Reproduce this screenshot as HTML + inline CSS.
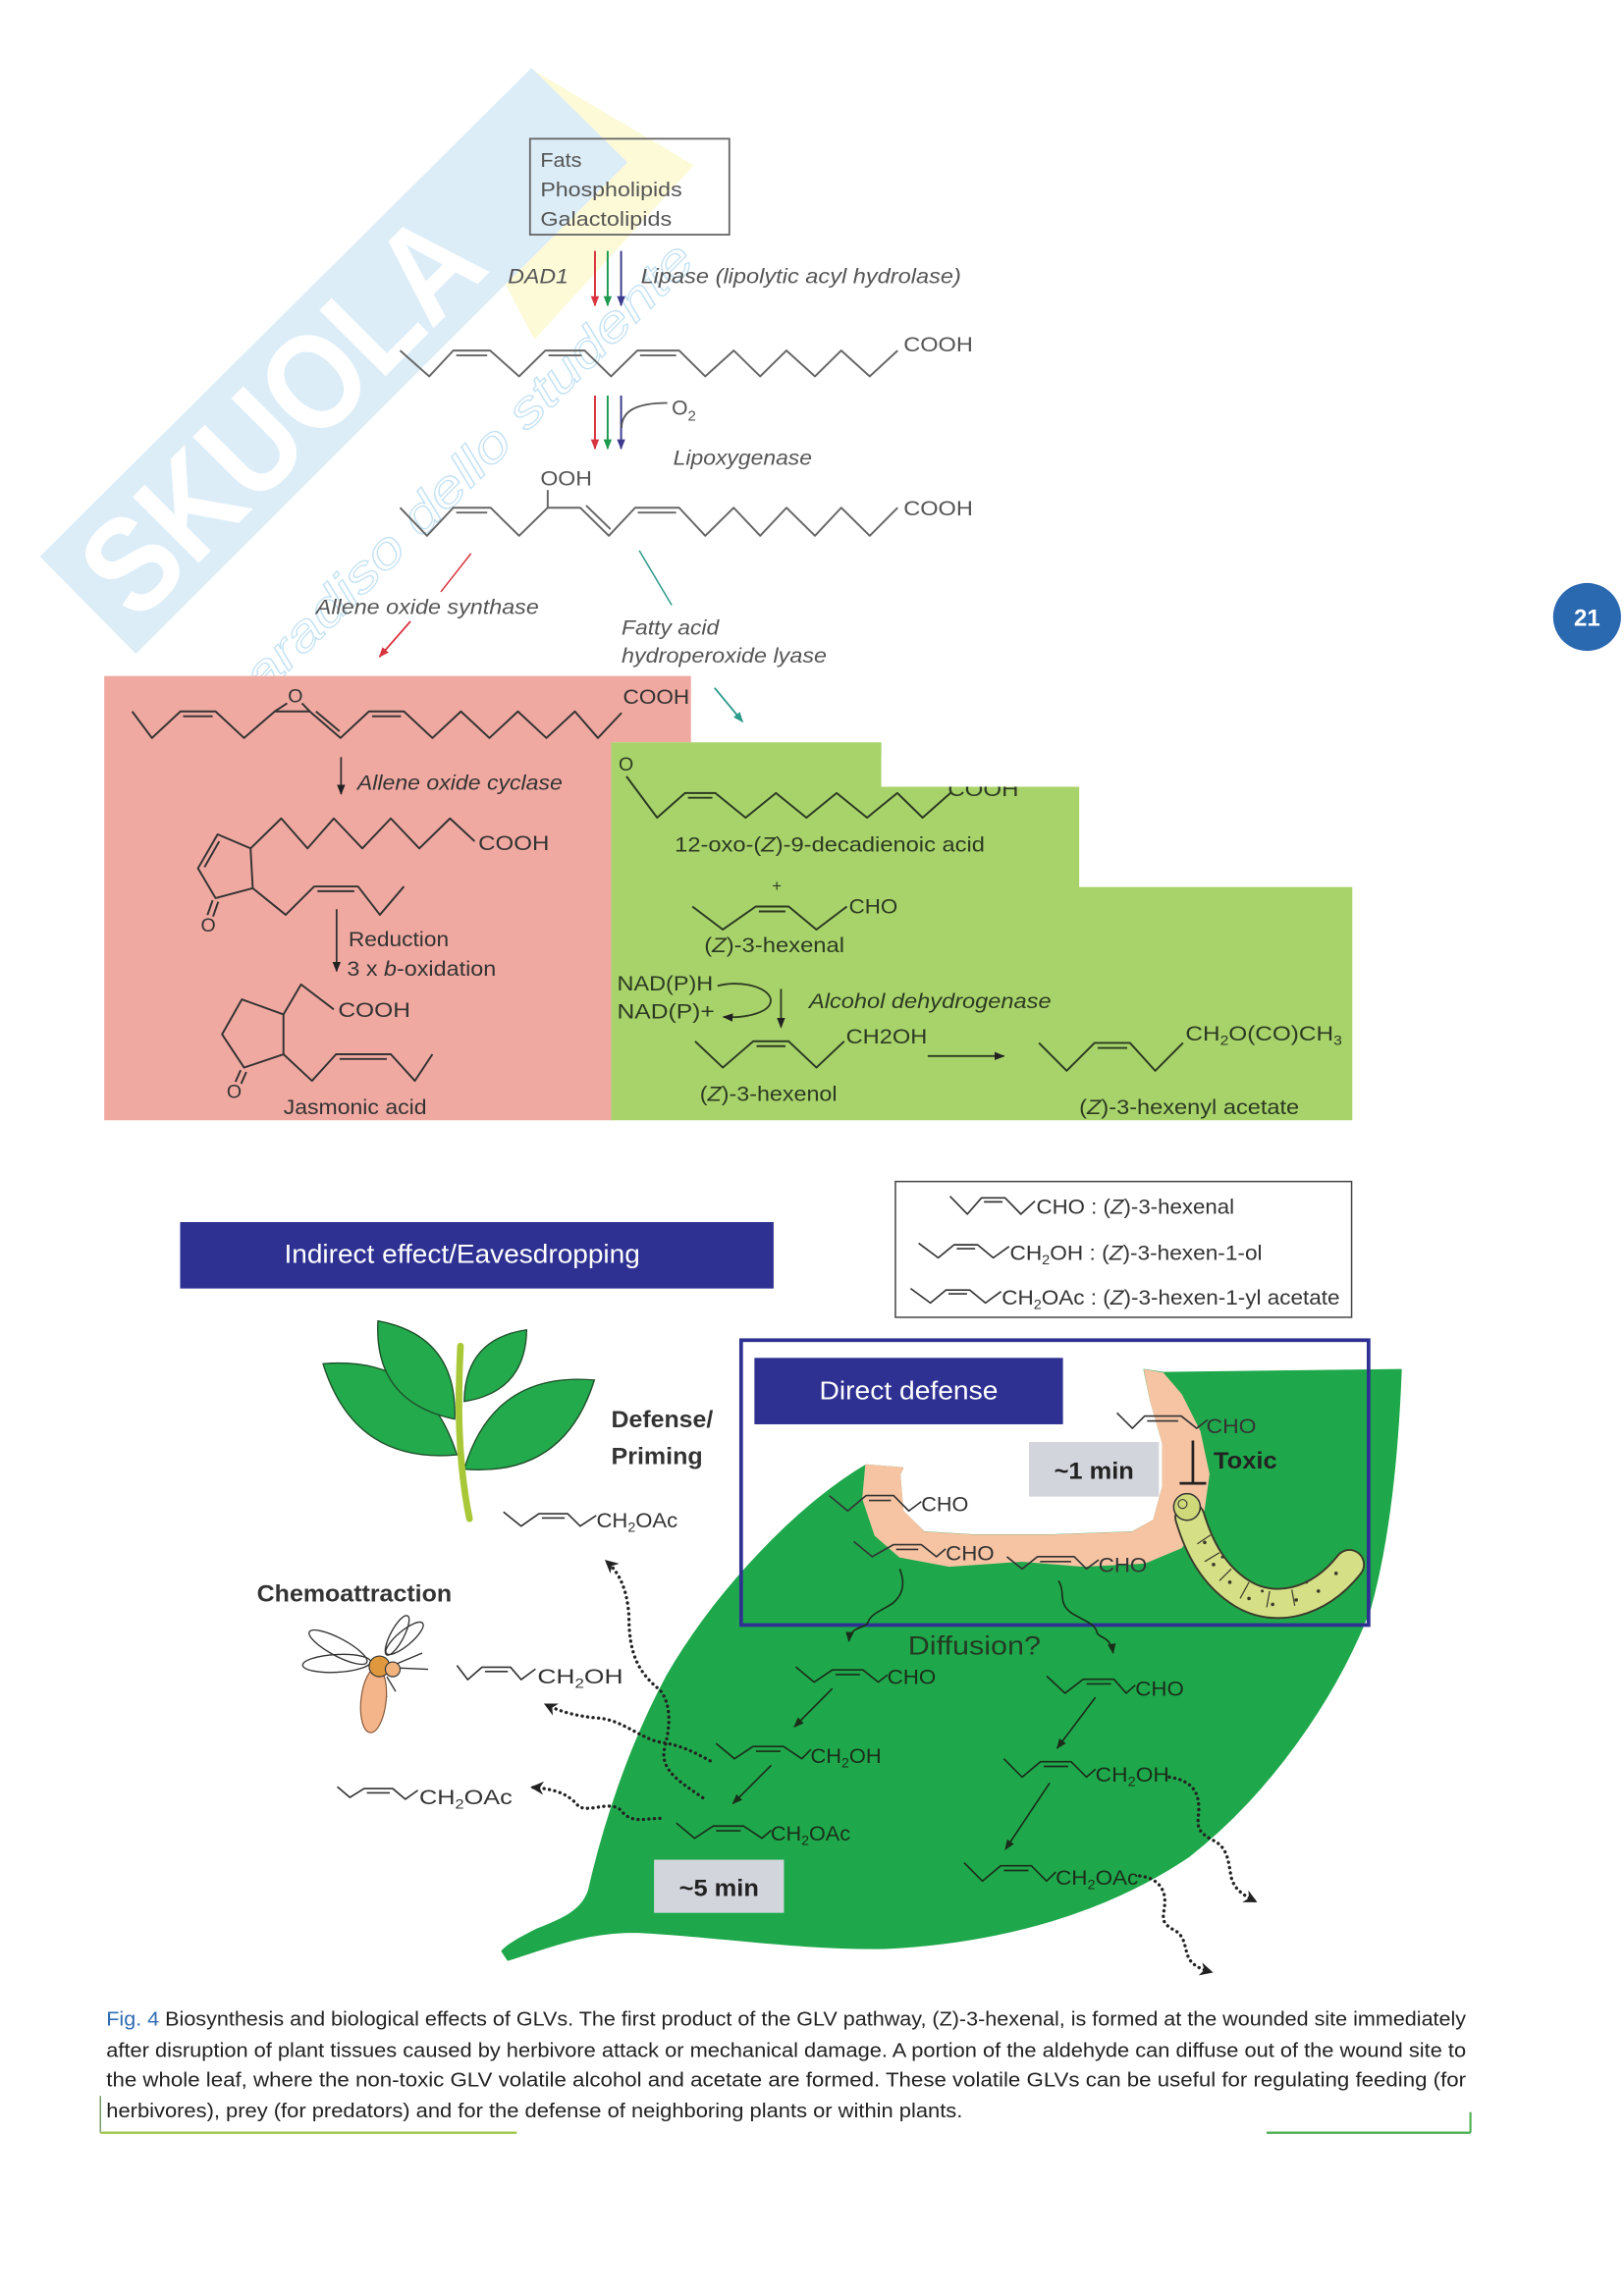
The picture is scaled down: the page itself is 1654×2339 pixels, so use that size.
<!DOCTYPE html>
<html><head><meta charset="utf-8">
<style>
html,body{margin:0;padding:0;background:#fff;}
svg{display:block;}
text{font-family:"Liberation Sans",Arial,sans-serif;}
</style></head><body>
<svg xmlns="http://www.w3.org/2000/svg" width="1654" height="2339" viewBox="0 0 1100 1555.6">
<defs>
<marker id="mk" viewBox="0 0 10 10" refX="9" refY="5" markerWidth="7" markerHeight="7" markerUnits="userSpaceOnUse" orient="auto"><path d="M0,1 L10,5 L0,9 z" fill="#222"/></marker>
<marker id="mkd" viewBox="0 0 10 10" refX="9" refY="5" markerWidth="7" markerHeight="7" markerUnits="userSpaceOnUse" orient="auto"><path d="M0,1 L10,5 L0,9 z" fill="#1a2d1a"/></marker>
<marker id="mr" viewBox="0 0 10 10" refX="9" refY="5" markerWidth="8" markerHeight="7" markerUnits="userSpaceOnUse" orient="auto"><path d="M0,1 L10,5 L0,9 z" fill="#d8343f"/></marker>
<marker id="mg" viewBox="0 0 10 10" refX="9" refY="5" markerWidth="8" markerHeight="7" markerUnits="userSpaceOnUse" orient="auto"><path d="M0,1 L10,5 L0,9 z" fill="#1d9a4e"/></marker>
<marker id="mp" viewBox="0 0 10 10" refX="9" refY="5" markerWidth="8" markerHeight="7" markerUnits="userSpaceOnUse" orient="auto"><path d="M0,1 L10,5 L0,9 z" fill="#3b3a8f"/></marker>
<marker id="mt" viewBox="0 0 10 10" refX="9" refY="5" markerWidth="8" markerHeight="7" markerUnits="userSpaceOnUse" orient="auto"><path d="M0,1 L10,5 L0,9 z" fill="#2a9a8a"/></marker>
<marker id="mdot" viewBox="0 0 10 10" refX="8" refY="5" markerWidth="9" markerHeight="9" markerUnits="userSpaceOnUse" orient="auto"><path d="M0,0 L10,5 L0,10 L3,5 z" fill="#222"/></marker>
</defs>

<!-- watermark -->
<polygon points="300,112 362,48 470,112 362,230" fill="#fdfad8"/>
<polygon points="27,377 360,46 425,110 92,443" fill="#dcedf8"/>
<text x="213" y="303" transform="rotate(-45 213 303)" text-anchor="middle" font-size="92" font-weight="bold" fill="#ffffff" textLength="340" lengthAdjust="spacingAndGlyphs">SKUOLA</text>
<text x="306" y="344" transform="rotate(-45 306 344)" text-anchor="middle" font-size="34" font-style="italic" fill="none" stroke="#c2e1f3" stroke-width="0.8" font-family="Liberation Serif, serif" textLength="470" lengthAdjust="spacingAndGlyphs">il paradiso dello studente</text>

<!-- Top: lipids box -->
<rect x="359" y="94" width="135" height="65" fill="none" stroke="#666" stroke-width="1.2"/>
<g font-size="13.5" fill="#555">
<text x="366" y="113" textLength="28" lengthAdjust="spacingAndGlyphs">Fats</text>
<text x="366" y="133" textLength="96" lengthAdjust="spacingAndGlyphs">Phospholipids</text>
<text x="366" y="153" textLength="89" lengthAdjust="spacingAndGlyphs">Galactolipids</text>
</g>
<g font-size="14" font-style="italic" fill="#555">
<text x="344" y="192" textLength="41" lengthAdjust="spacingAndGlyphs">DAD1</text>
<text x="434" y="192" textLength="217" lengthAdjust="spacingAndGlyphs">Lipase (lipolytic acyl hydrolase)</text>
<text x="456" y="315" textLength="94" lengthAdjust="spacingAndGlyphs">Lipoxygenase</text>
<text x="214" y="416" textLength="151" lengthAdjust="spacingAndGlyphs">Allene oxide synthase</text>
<text x="421" y="430" textLength="66" lengthAdjust="spacingAndGlyphs">Fatty acid</text>
<text x="421" y="449" textLength="139" lengthAdjust="spacingAndGlyphs">hydroperoxide lyase</text>
</g>
<g stroke-width="1.3">
<line x1="403" y1="170" x2="403" y2="207" stroke="#d8343f" marker-end="url(#mr)"/>
<line x1="411.6" y1="170" x2="411.6" y2="207" stroke="#1d9a4e" marker-end="url(#mg)"/>
<line x1="420.7" y1="170" x2="420.7" y2="207" stroke="#3b3a8f" marker-end="url(#mp)"/>
<line x1="403" y1="268" x2="403" y2="304" stroke="#d8343f" marker-end="url(#mr)"/>
<line x1="411.6" y1="268" x2="411.6" y2="304" stroke="#1d9a4e" marker-end="url(#mg)"/>
<line x1="420.7" y1="268" x2="420.7" y2="304" stroke="#3b3a8f" marker-end="url(#mp)"/>
</g>
<path d="M421,290 C421,279 430,273 452,273" fill="none" stroke="#555" stroke-width="1.2"/>
<text x="455" y="281" font-size="14" fill="#555">O<tspan font-size="10" dy="4">2</tspan></text>

<!-- chain 1 -->
<g fill="none" stroke="#666" stroke-width="1.3" stroke-linejoin="round">
<polyline points="271,237.5 290.7,255 307,237.5 332,237.5 351.6,255 369.4,237.5 396,237.5 413.9,255 431.7,237.5 460,237.5 477.7,255 497,237.5 514.9,255 532.7,237.5 552,255 569.8,237.5 589.1,255 608,237.5"/>
<line x1="309" y1="240.8" x2="330" y2="240.8"/>
<line x1="371.5" y1="240.8" x2="394" y2="240.8"/>
<line x1="433.5" y1="240.8" x2="458" y2="240.8"/>
<!-- chain 2 -->
<polyline points="271,344 289.2,363 307,344 332.3,344 351.6,363 371,344 393,344 412.4,363 430.2,344 460,344 477.7,363 497,344 514.9,363 532.7,344 552,363 569.8,344 589.1,363 608,344"/>
<line x1="309" y1="347.3" x2="330" y2="347.3"/>
<line x1="397" y1="342.5" x2="413.5" y2="358.5"/>
<line x1="432" y1="347.3" x2="458" y2="347.3"/>
<line x1="371" y1="332" x2="371" y2="344"/>
</g>
<g font-size="14" fill="#555">
<text x="612" y="238" textLength="47" lengthAdjust="spacingAndGlyphs">COOH</text>
<text x="366" y="329" textLength="35" lengthAdjust="spacingAndGlyphs">OOH</text>
<text x="612" y="349" textLength="47" lengthAdjust="spacingAndGlyphs">COOH</text>
</g>
<line x1="319" y1="375" x2="298.6" y2="401" stroke="#d8343f" stroke-width="1"/>
<line x1="278" y1="421" x2="257" y2="445" stroke="#d8343f" stroke-width="1.2" marker-end="url(#mr)"/>
<line x1="433" y1="373" x2="455" y2="410" stroke="#2a9a8a" stroke-width="1"/>
<line x1="484" y1="466" x2="503" y2="489" stroke="#2a9a8a" stroke-width="1.2" marker-end="url(#mt)"/>

<!-- pink & green panels -->
<path d="M70.6,458 H468 V503 H415 V759 H70.6 Z" fill="#f0a9a1"/>
<path d="M414,503 H597 V533 H731 V601 H916 V759 H414 Z" fill="#a8d36b"/>

<!-- pink content -->
<g fill="none" stroke="#333" stroke-width="1.3" stroke-linejoin="round">
<polyline points="89.5,482 102.9,500 122.2,482 146,482 165.3,500 186.1,482 209.8,482 230.6,500 249.9,482 273.6,482 292.9,500 312.2,482 331.5,500 350.8,482 370.1,500 389.4,482 405,500 421,483"/>
<line x1="186.1" y1="482" x2="194.5" y2="476.5"/>
<line x1="204.5" y1="476.5" x2="209.8" y2="482"/>
<line x1="124" y1="485.3" x2="144" y2="485.3"/>
<line x1="214" y1="482" x2="230" y2="495.5"/>
<line x1="252" y1="485.3" x2="271.6" y2="485.3"/>
<!-- OPDA -->
<polygon points="147.4,565.3 134.1,588.3 146,608.5 171.2,601.8 169.7,574.8"/>
<line x1="148.5" y1="570" x2="138.5" y2="587.5"/>
<line x1="144" y1="610" x2="140.5" y2="620"/>
<line x1="147.8" y1="611" x2="144.3" y2="621"/>
<polyline points="169.7,574.8 190.5,554.5 208.3,574.8 226.1,554.5 245.4,574.8 264.7,554.5 284,574.8 304.8,554.5 321.5,570"/>
<polyline points="171.2,601.8 193.5,619.8 212.8,600.6 242.5,600.6 257.3,619.8 273.6,600.6"/>
<line x1="215" y1="603.8" x2="240" y2="603.8"/>
<!-- JA -->
<polygon points="163.8,677.1 192,687.3 192,714.3 165.3,723.3 150.4,700.8"/>
<line x1="163" y1="725" x2="159.5" y2="733"/>
<line x1="166.8" y1="726.3" x2="163.3" y2="734.3"/>
<polyline points="192,687.3 203.9,667 226.1,683.9"/>
<polyline points="192,714.3 211.3,732.3 227.6,714.3 264.7,714.3 281,732.3 292.9,714.3"/>
<line x1="230" y1="717.5" x2="262" y2="717.5"/>
</g>
<line x1="231" y1="513" x2="231" y2="538" stroke="#333" stroke-width="1.2" marker-end="url(#mk)"/>
<line x1="228" y1="616" x2="228" y2="658" stroke="#333" stroke-width="1.2" marker-end="url(#mk)"/>
<g font-size="14" fill="#333">
<text x="195" y="476" font-size="13">O</text>
<text x="422" y="477" textLength="45" lengthAdjust="spacingAndGlyphs">COOH</text>
<text x="242" y="535" font-style="italic" textLength="139" lengthAdjust="spacingAndGlyphs">Allene oxide cyclase</text>
<text x="324" y="576" textLength="48" lengthAdjust="spacingAndGlyphs">COOH</text>
<text x="136" y="631" font-size="13">O</text>
<text x="236" y="641" textLength="68" lengthAdjust="spacingAndGlyphs">Reduction</text>
<text x="235" y="661" textLength="101" lengthAdjust="spacingAndGlyphs">3 x <tspan font-style="italic">b</tspan>-oxidation</text>
<text x="229" y="689" textLength="49" lengthAdjust="spacingAndGlyphs">COOH</text>
<text x="153.5" y="744" font-size="13">O</text>
<text x="192" y="755" textLength="97" lengthAdjust="spacingAndGlyphs">Jasmonic acid</text>
</g>

<!-- green content -->
<g fill="none" stroke="#2c3a22" stroke-width="1.3" stroke-linejoin="round">
<polyline points="424.3,526 445.1,554 464,537.3 484.5,537.3 505,554 525.6,537.3 546.2,554 566.7,537.3 587.3,554 607.8,537.3 624.9,554 643.8,537.3"/>
<line x1="466" y1="540.5" x2="482.5" y2="540.5"/>
<polyline points="469,614.2 489.6,629.8 511.9,614.2 534.2,614.2 553,629.8 573.6,614.2"/>
<line x1="514" y1="617.5" x2="532" y2="617.5"/>
<polyline points="470.8,705.5 489.6,723.3 510.2,705.5 534.2,705.5 553,723.3 571.8,705.5"/>
<line x1="512.5" y1="708.8" x2="532" y2="708.8"/>
<polyline points="703.7,706.6 722.5,725.5 741.4,706.6 765.4,706.6 782.5,725.5 801.3,706.6"/>
<line x1="743.5" y1="710" x2="763.5" y2="710"/>
</g>
<g font-size="14" fill="#2c3a22">
<text x="419" y="522" font-size="13">O</text>
<text x="642" y="539.5" textLength="48" lengthAdjust="spacingAndGlyphs">COOH</text>
</g>
<rect x="597" y="512" width="134" height="21" fill="#fff"/>
<g font-size="14" fill="#2c3a22">
<text x="457" y="577" textLength="210" lengthAdjust="spacingAndGlyphs">12-oxo-(<tspan font-style="italic">Z</tspan>)-9-decadienoic acid</text>
<text x="523" y="604" font-size="11">+</text>
<text x="575" y="619" textLength="33" lengthAdjust="spacingAndGlyphs">CHO</text>
<text x="477" y="645" textLength="95" lengthAdjust="spacingAndGlyphs">(<tspan font-style="italic">Z</tspan>)-3-hexenal</text>
<text x="418" y="671" textLength="65" lengthAdjust="spacingAndGlyphs">NAD(P)H</text>
<text x="418" y="690" textLength="66" lengthAdjust="spacingAndGlyphs">NAD(P)+</text>
<text x="548" y="683" font-style="italic" textLength="164" lengthAdjust="spacingAndGlyphs">Alcohol dehydrogenase</text>
<text x="573" y="707" textLength="55" lengthAdjust="spacingAndGlyphs">CH2OH</text>
<text x="474" y="746" textLength="93" lengthAdjust="spacingAndGlyphs">(<tspan font-style="italic">Z</tspan>)-3-hexenol</text>
<text x="803" y="705" textLength="106" lengthAdjust="spacingAndGlyphs">CH<tspan font-size="9" dy="3">2</tspan><tspan dy="-3">O(CO)CH</tspan><tspan font-size="9" dy="3">3</tspan></text>
<text x="731" y="755" textLength="149" lengthAdjust="spacingAndGlyphs">(<tspan font-style="italic">Z</tspan>)-3-hexenyl acetate</text>
</g>
<path d="M486,668 C500,664 520,668 522,677 C523,686 505,690 490,689" fill="none" stroke="#2c3a22" stroke-width="1.2" marker-end="url(#mk)"/>
<line x1="529" y1="670" x2="529" y2="696" stroke="#2c3a22" stroke-width="1.2" marker-end="url(#mk)"/>
<line x1="628.4" y1="715.5" x2="680" y2="715.5" stroke="#2c3a22" stroke-width="1.2" marker-end="url(#mk)"/>

<!-- Indirect effect box -->
<rect x="122" y="828" width="402" height="45" fill="#2e3192"/>
<text x="313" y="855.5" text-anchor="middle" font-size="18" fill="#fff" textLength="241" lengthAdjust="spacingAndGlyphs">Indirect effect/Eavesdropping</text>

<!-- Legend -->
<rect x="606.5" y="800.5" width="309" height="92" fill="none" stroke="#444" stroke-width="1"/>
<g fill="none" stroke="#333" stroke-width="1.1" stroke-linejoin="round">
<polyline points="643.5,810.5 655.2,822.6 664.8,811.6 680.8,811.6 691.5,822.6 701,813.8"/>
<line x1="666.5" y1="814.3" x2="679" y2="814.3"/>
<polyline points="622.2,842.3 635.5,852.2 646.2,843.4 662.2,843.4 672.8,852.2 683.5,844.5"/>
<line x1="648" y1="846" x2="660.5" y2="846"/>
<polyline points="616.8,873 630.2,882.8 640.8,874 656.8,874 667.5,882.8 678.1,875"/>
<line x1="642.5" y1="876.6" x2="655" y2="876.6"/>
</g>
<g font-size="14" fill="#333">
<text x="702" y="822.5" textLength="134" lengthAdjust="spacingAndGlyphs">CHO : (<tspan font-style="italic">Z</tspan>)-3-hexenal</text>
<text x="684" y="853.5" textLength="171" lengthAdjust="spacingAndGlyphs">CH<tspan font-size="9" dy="3">2</tspan><tspan dy="-3">OH : (</tspan><tspan font-style="italic">Z</tspan>)-3-hexen-1-ol</text>
<text x="678.5" y="884" textLength="229" lengthAdjust="spacingAndGlyphs">CH<tspan font-size="9" dy="3">2</tspan><tspan dy="-3">OAc : (</tspan><tspan font-style="italic">Z</tspan>)-3-hexen-1-yl acetate</text>
</g>

<!-- Sprig -->
<g fill="#22aa4c" stroke="#1f4f2a" stroke-width="0.9">
<path d="M309.5,985.7 Q288,918 218.8,924 Q240,992 309.5,985.7 Z"/>
<path d="M308,961.5 Q310,905 256,895 Q253,950 308,961.5 Z"/>
<path d="M314.4,949.5 Q356,943 356.7,901 Q315,907 314.4,949.5 Z"/>
<path d="M314.4,995.4 Q382,1001 402.6,935 Q334,929 314.4,995.4 Z"/>
</g>
<path d="M311.9,912 C310,950 310,990 318,1029" fill="none" stroke="#a8c838" stroke-width="4.5" stroke-linecap="round"/>
<g font-size="16" font-weight="bold" fill="#333">
<text x="414" y="967" textLength="69" lengthAdjust="spacingAndGlyphs">Defense/</text>
<text x="414" y="992" textLength="62" lengthAdjust="spacingAndGlyphs">Priming</text>
<text x="174" y="1085" textLength="132" lengthAdjust="spacingAndGlyphs">Chemoattraction</text>
</g>
<g fill="none" stroke="#333" stroke-width="1.1" stroke-linejoin="round">
<polyline points="341,1024.4 353,1034 365,1025.6 384.5,1025.6 393,1034 403.8,1026.8"/>
<line x1="367" y1="1028.5" x2="382.5" y2="1028.5"/>
<polyline points="309.5,1128.4 316.8,1138 326.4,1129.6 345.8,1129.6 353,1138 362.7,1130.8"/>
<line x1="328.5" y1="1132.5" x2="344" y2="1132.5"/>
<polyline points="228.5,1210.6 237,1217.8 246.6,1211.8 266,1211.8 274.5,1219 283,1213"/>
<line x1="248.5" y1="1214.7" x2="264" y2="1214.7"/>
</g>
<g font-size="14" fill="#333">
<text x="404" y="1035" textLength="55" lengthAdjust="spacingAndGlyphs">CH<tspan font-size="9" dy="3">2</tspan><tspan dy="-3">OAc</tspan></text>
<text x="364" y="1140.5" textLength="58" lengthAdjust="spacingAndGlyphs">CH<tspan font-size="9" dy="3">2</tspan><tspan dy="-3">OH</tspan></text>
<text x="284" y="1222.5" textLength="63" lengthAdjust="spacingAndGlyphs">CH<tspan font-size="9" dy="3">2</tspan><tspan dy="-3">OAc</tspan></text>
</g>

<!-- Wasp -->
<g stroke="#333" stroke-width="0.9" fill="none">
<ellipse cx="228" cy="1127" rx="23" ry="6" transform="rotate(-3 228 1127)"/>
<ellipse cx="229" cy="1116" rx="22" ry="6" transform="rotate(28 229 1116)"/>
<ellipse cx="274" cy="1110" rx="16" ry="5" transform="rotate(-40 274 1110)"/>
<ellipse cx="269" cy="1108" rx="15" ry="4.5" transform="rotate(-62 269 1108)"/>
<line x1="268" y1="1130" x2="290" y2="1131"/>
<line x1="267" y1="1128" x2="286" y2="1120"/>
<line x1="258" y1="1138" x2="262" y2="1150"/>
<line x1="262" y1="1136" x2="268" y2="1146"/>
</g>
<ellipse cx="253" cy="1152" rx="8.5" ry="22" transform="rotate(6 253 1152)" fill="#f4b58a" stroke="#8a5a3a" stroke-width="0.8"/>
<circle cx="257" cy="1129" r="7" fill="#e0983e" stroke="#333" stroke-width="0.8"/>
<circle cx="266" cy="1131" r="5" fill="#f2b47c" stroke="#333" stroke-width="0.8"/>

<!-- Big leaf -->
<path d="M344,1328 C370,1320 395,1309 430,1309 C480,1311 540,1321 600,1320 C680,1316 750,1295 805,1258 C860,1215 905,1150 928,1090 C942,1040 947,980 949,928 L788,930 L775,928 L779.4,949 L787.7,978 L787.7,1007 L781.5,1030 L767,1038 L713,1040 L659,1040 L626,1038 L611.5,1024 L609.4,999 L611.5,994.6 L586.6,992.6 C540,1020 485,1078 452,1135 C425,1185 408,1240 399,1280 C395,1294 382,1300 364,1307 C352,1313 343,1318 340,1322 Z" fill="#1fa84b" stroke="#1fa84b" stroke-width="1" stroke-linejoin="round"/>
<!-- peach wound -->
<path d="M586.6,992.6 L584.5,1015.4 L592.8,1040.2 L609.4,1054.7 L642.6,1061 L692.3,1057.6 L733.8,1061 L775.3,1058.9 L800.1,1048.5 L814.7,1027.8 L818.8,998.8 L812.6,969.8 L800.1,944.9 L787.7,930.4 L775.3,928.3 L779.4,949 L787.7,978 L787.7,1007 L781.5,1029.9 L767,1038.2 L713.1,1040.2 L659.2,1040.2 L626,1038.2 L611.5,1023.7 L609.4,998.8 L611.5,994.6 Z" fill="#f6c3a3" stroke="#f6c3a3" stroke-width="1" stroke-linejoin="round"/>

<!-- wound molecules -->
<g fill="none" stroke="#333" stroke-width="1.1" stroke-linejoin="round">
<polyline points="756.6,957.3 767,967.7 775.3,959.4 800.1,959.4 810.5,967.7 818,962"/>
<line x1="777" y1="962.7" x2="798" y2="962.7"/>
<polyline points="561.7,1013.3 574.2,1023.7 586.6,1013.3 605.3,1013.3 615.6,1023.7 624,1017.4"/>
<line x1="588.5" y1="1016.6" x2="603.5" y2="1016.6"/>
<polyline points="578.3,1044.4 590.8,1054.7 605.3,1046.5 624,1046.5 634.3,1054.7 640.5,1049.4"/>
<line x1="607" y1="1049.8" x2="622" y2="1049.8"/>
<polyline points="682,1054.7 692.3,1063 702.7,1054.7 727.6,1054.7 735.9,1063 744.2,1056.8"/>
<line x1="704.5" y1="1058" x2="725.5" y2="1058"/>
</g>
<g font-size="14" fill="#333">
<text x="817" y="971" textLength="34" lengthAdjust="spacingAndGlyphs">CHO</text>
<text x="624" y="1024" textLength="32" lengthAdjust="spacingAndGlyphs">CHO</text>
<text x="640.5" y="1057" textLength="33" lengthAdjust="spacingAndGlyphs">CHO</text>
<text x="744" y="1065" textLength="33" lengthAdjust="spacingAndGlyphs">CHO</text>
</g>
<rect x="697" y="977" width="88" height="37" fill="#d3d5dc"/>
<text x="741" y="1002" text-anchor="middle" font-size="16" font-weight="bold" fill="#222" textLength="54" lengthAdjust="spacingAndGlyphs">~1 min</text>
<line x1="808" y1="976" x2="808" y2="1005" stroke="#222" stroke-width="1.8"/>
<line x1="799" y1="1005" x2="817" y2="1005" stroke="#222" stroke-width="1.8"/>
<text x="822" y="995" font-size="16" font-weight="bold" fill="#222" textLength="43" lengthAdjust="spacingAndGlyphs">Toxic</text>

<!-- caterpillar -->
<path d="M806,1028 C812,1048 822,1068 842,1080 C862,1092 892,1088 914,1060" fill="none" stroke="#3a3a2a" stroke-width="21" stroke-linecap="round"/>
<path d="M806,1028 C812,1048 822,1068 842,1080 C862,1092 892,1088 914,1060" fill="none" stroke="#d5df86" stroke-width="18.5" stroke-linecap="round"/>
<g fill="#3a3a2a">
<circle cx="816" cy="1045" r="1.2"/><circle cx="822" cy="1060" r="1.2"/><circle cx="833" cy="1072" r="1.2"/>
<circle cx="846" cy="1083" r="1.2"/><circle cx="862" cy="1087" r="1.2"/><circle cx="878" cy="1084" r="1.2"/>
<circle cx="893" cy="1078" r="1.2"/><circle cx="905" cy="1066" r="1.2"/><circle cx="828" cy="1055" r="1"/>
<circle cx="855" cy="1078" r="1"/><circle cx="885" cy="1072" r="1"/>
</g>
<g stroke="#3a3a2a" stroke-width="0.8">
<line x1="820" y1="1040" x2="811" y2="1046"/><line x1="826" y1="1052" x2="816" y2="1058"/>
<line x1="834" y1="1063" x2="826" y2="1071"/><line x1="846" y1="1072" x2="840" y2="1083"/>
<line x1="860" y1="1078" x2="858" y2="1089"/><line x1="875" y1="1077" x2="877" y2="1088"/>
</g>
<circle cx="804" cy="1021" r="9" fill="#cfd97a" stroke="#333" stroke-width="1"/>
<circle cx="801" cy="1019" r="3" fill="none" stroke="#333" stroke-width="0.7"/>

<!-- Direct defense box -->
<rect x="502" y="908" width="425" height="193" fill="none" stroke="#2e3192" stroke-width="2.5"/>
<rect x="511" y="920" width="209" height="45" fill="#2e3192"/>
<text x="615.5" y="948" text-anchor="middle" font-size="17" fill="#fff" textLength="121" lengthAdjust="spacingAndGlyphs">Direct defense</text>

<!-- diffusion -->
<path d="M609.4,1063 C613,1072 612,1080 605,1086 C598,1091 590,1093 588,1099 C586,1104 576,1101 575,1112" fill="none" stroke="#1a2d1a" stroke-width="1.1" marker-end="url(#mkd)"/>
<path d="M717,1071 C722,1079 716,1086 726,1093 C734,1098 742,1100 743,1106 C744,1110 752,1108 754,1120" fill="none" stroke="#1a2d1a" stroke-width="1.1" marker-end="url(#mkd)"/>
<text x="615" y="1121" font-size="18" fill="#233b23" textLength="90" lengthAdjust="spacingAndGlyphs">Diffusion?</text>

<!-- leaf molecules -->
<g fill="none" stroke="#1a2d1a" stroke-width="1.1" stroke-linejoin="round">
<polyline points="539,1129.4 551.4,1139.7 563.8,1131.4 584.5,1131.4 594.9,1139.7 601.1,1134.8"/>
<line x1="566" y1="1134.6" x2="582.5" y2="1134.6"/>
<polyline points="485,1181.2 497.5,1191.6 510,1183.3 530.7,1183.3 543.1,1191.6 549.3,1185.3"/>
<line x1="512" y1="1186.5" x2="528.7" y2="1186.5"/>
<polyline points="458.1,1235.1 470.5,1245.5 483,1237.2 503.7,1237.2 516.1,1245.5 522.4,1240"/>
<line x1="485" y1="1240.4" x2="501.7" y2="1240.4"/>
<polyline points="709,1135.6 721.4,1147.2 733.8,1137.7 754.5,1137.7 762.8,1147.2 769,1141.8"/>
<line x1="736" y1="1140.9" x2="752.5" y2="1140.9"/>
<polyline points="679.9,1191.6 692.3,1204 704.8,1193.6 725.5,1193.6 735.9,1204 742.1,1198.6"/>
<line x1="707" y1="1196.8" x2="723.5" y2="1196.8"/>
<polyline points="653,1262 665.4,1274.5 677.8,1264.1 698.6,1264.1 708.9,1274.5 715.2,1268.3"/>
<line x1="680" y1="1267.3" x2="696.6" y2="1267.3"/>
</g>
<g stroke="#1a2d1a" stroke-width="1.1">
<line x1="563.8" y1="1144" x2="538" y2="1170" marker-end="url(#mkd)"/>
<line x1="522.4" y1="1196" x2="496.4" y2="1222" marker-end="url(#mkd)"/>
<line x1="742" y1="1150" x2="716" y2="1184.5" marker-end="url(#mkd)"/>
<line x1="711" y1="1208" x2="681" y2="1253" marker-end="url(#mkd)"/>
</g>
<g font-size="14" fill="#1a2d1a">
<text x="601" y="1141" textLength="33" lengthAdjust="spacingAndGlyphs">CHO</text>
<text x="549" y="1194.5" textLength="48" lengthAdjust="spacingAndGlyphs">CH<tspan font-size="9" dy="3">2</tspan><tspan dy="-3">OH</tspan></text>
<text x="522" y="1247" textLength="54" lengthAdjust="spacingAndGlyphs">CH<tspan font-size="9" dy="3">2</tspan><tspan dy="-3">OAc</tspan></text>
<text x="769" y="1149" textLength="33" lengthAdjust="spacingAndGlyphs">CHO</text>
<text x="742" y="1207" textLength="50" lengthAdjust="spacingAndGlyphs">CH<tspan font-size="9" dy="3">2</tspan><tspan dy="-3">OH</tspan></text>
<text x="715" y="1277" textLength="56" lengthAdjust="spacingAndGlyphs">CH<tspan font-size="9" dy="3">2</tspan><tspan dy="-3">OAc</tspan></text>
</g>
<rect x="443" y="1260" width="88" height="36" fill="#d3d5dc"/>
<text x="487" y="1284.5" text-anchor="middle" font-size="16" font-weight="bold" fill="#222" textLength="54" lengthAdjust="spacingAndGlyphs">~5 min</text>

<!-- dotted arrows -->
<g fill="none" stroke="#222" stroke-width="2.2" stroke-dasharray="0.1,3.6" stroke-linecap="round">
<path d="M476,1218 C462,1208 447,1200 450,1185 C454,1170 455,1155 447,1145 C432,1133 426,1120 426,1095 C425,1078 420,1066 411,1058" marker-end="url(#mdot)"/>
<path d="M481,1193 C468,1186 460,1182 445,1180 C432,1176 420,1165 405,1164 C392,1163 380,1160 370,1155" marker-end="url(#mdot)"/>
<path d="M447,1232 C435,1232 428,1236 420,1226 C412,1220 400,1228 392,1224 C385,1215 375,1212 361,1211" marker-end="url(#mdot)"/>
<path d="M792,1204 C805,1206 812,1212 812,1225 C812,1235 808,1240 822,1247 C832,1252 832,1262 834,1272 C836,1280 842,1284 850,1288" marker-end="url(#mdot)"/>
<path d="M772,1271 C782,1272 789,1278 789,1288 C789,1298 784,1302 796,1308 C804,1313 802,1322 806,1328 C809,1332 813,1334 820,1336" marker-end="url(#mdot)"/>
</g>

<!-- caption -->
<g font-size="13.5" fill="#222">
<text x="72" y="1372.5" textLength="921" lengthAdjust="spacingAndGlyphs"><tspan fill="#2f6cb3">Fig. 4</tspan>  Biosynthesis and biological effects of GLVs. The first product of the GLV pathway, (Z)-3-hexenal, is formed at the wounded site immediately</text>
<text x="72" y="1393.5" textLength="921" lengthAdjust="spacingAndGlyphs">after disruption of plant tissues caused by herbivore attack or mechanical damage. A portion of the aldehyde can diffuse out of the wound site to</text>
<text x="72" y="1413.5" textLength="921" lengthAdjust="spacingAndGlyphs">the whole leaf, where the non-toxic GLV volatile alcohol and acetate are formed. These volatile GLVs can be useful for regulating feeding (for</text>
<text x="72" y="1434.5" textLength="580" lengthAdjust="spacingAndGlyphs">herbivores), prey (for predators) and for the defense of neighboring plants or within plants.</text>
</g>
<line x1="68" y1="1420" x2="68" y2="1445" stroke="#7a9a6a" stroke-width="1"/>
<line x1="68" y1="1445" x2="350" y2="1445" stroke="#9cc64a" stroke-width="1.6"/>
<line x1="996" y1="1431" x2="996" y2="1445" stroke="#4caf50" stroke-width="1.4"/>
<line x1="858" y1="1445" x2="996" y2="1445" stroke="#4caf50" stroke-width="1.6"/>

<!-- page number -->
<circle cx="1075" cy="418" r="23" fill="#2a68b0"/>
<text x="1075" y="424" text-anchor="middle" font-size="16" font-weight="bold" fill="#fff">21</text>
</svg>
</body></html>
